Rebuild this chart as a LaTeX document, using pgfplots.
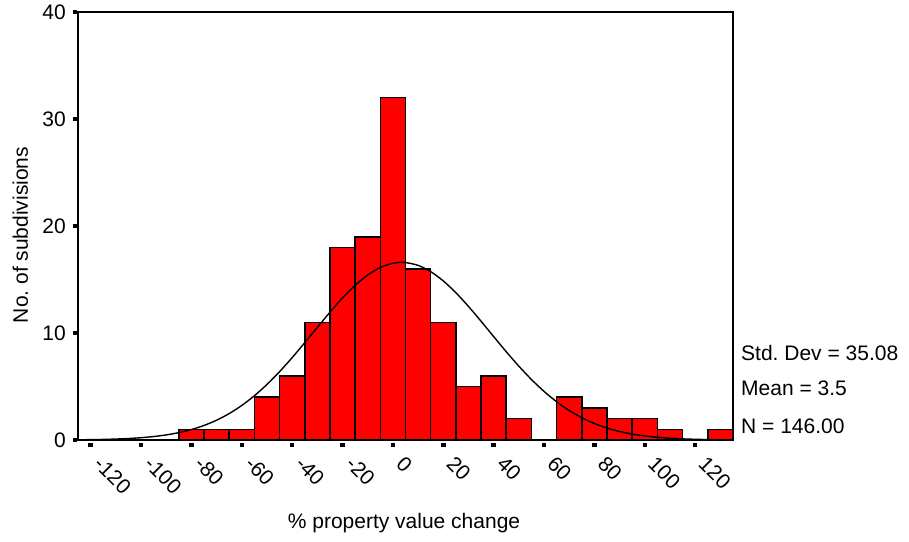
\documentclass[border=0pt]{standalone}
\usepackage{fontspec}
\setmainfont{Liberation Sans}
\usepackage{pgfplots}
\pgfplotsset{compat=1.18}

% histogram counts per 10-unit bin (bin centres)
\pgfplotstableread{
x   n
-80 1
-70 1
-60 1
-50 4
-40 6
-30 11
-20 18
-10 19
0   32
10  16
20  11
30  5
40  6
50  2
70  4
80  3
90  2
100 2
110 1
130 1
}\bins

\begin{document}
\frenchspacing
\fontsize{21}{25}\selectfont
\begin{tikzpicture}[font=\fontsize{21}{25}\selectfont]
\path[use as bounding box] (-78pt,-101pt) rectangle (831pt,440pt);
\begin{axis}[
  at={(0,0)}, anchor=south west,
  scale only axis,
  width=655pt, height=428pt,
  xmin=-125, xmax=135,
  ymin=0, ymax=40,
  axis line style={line width=1.6pt},
  tick pos=left,
  tick align=outside,
  major tick length=4pt,
  xtick={-120,-100,...,120},
  xticklabels={-120,-100,-80,-60,-40,-20,0,20,40,60,80,100,120},
  ytick={0,10,20,30,40},
  xtick style={draw=black, line width=4.5pt, yshift=-3pt},
  ytick style={draw=black, line width=4.5pt, xshift=-1pt},
  xticklabel style={xshift=12.5pt, yshift=-11pt, rotate=-45, anchor=north west, inner sep=0pt},
  yticklabel style={inner sep=0pt, xshift=-8pt},
  /pgf/number format/assume math mode=true,
  clip=false,
]
\addplot[ybar, bar width=10, bar shift=0pt, fill=red, draw=black, line width=1.6pt]
  table[x=x, y=n] {\bins};
\addplot[black, line width=1.4pt, smooth, no marks] coordinates {
(-125,0.020) (-120,0.034) (-115,0.055) (-110,0.089) (-105,0.139) (-100,0.214)
(-95,0.322) (-90,0.476) (-85,0.689) (-80,0.977) (-75,1.358) (-70,1.850)
(-65,2.468) (-60,3.227) (-55,4.135) (-50,5.189) (-45,6.384) (-40,7.696)
(-35,9.093) (-30,10.524) (-25,11.937) (-20,13.267) (-15,14.449) (-10,15.419)
(-5,16.124) (0,16.522) (3.5,16.604) (5,16.589) (10,16.321) (15,15.735)
(20,14.866) (25,13.762) (30,12.483) (35,11.096) (40,9.664) (45,8.247)
(50,6.897) (55,5.652) (60,4.538) (65,3.571) (70,2.753) (75,2.081)
(80,1.540) (85,1.117) (90,0.794) (95,0.553) (100,0.377) (105,0.253)
(110,0.166) (115,0.106) (120,0.067) (125,0.041) (130,0.025) (135,0.015)
};
\end{axis}
% axis titles
\node[anchor=base, rotate=90, inner sep=0pt] at (-50pt,205pt) {No. of subdivisions};
\node[anchor=base, inner sep=0pt] at (326pt,-88pt) {\% property value change};
% summary statistics
\node[anchor=base west, inner sep=0pt] at (663pt,79.3pt) {Std. Dev = 35.08};
\node[anchor=base west, inner sep=0pt] at (663pt,45pt) {Mean = 3.5};
\node[anchor=base west, inner sep=0pt] at (663pt,6.7pt) {N = 146.00};
\end{tikzpicture}
\end{document}
